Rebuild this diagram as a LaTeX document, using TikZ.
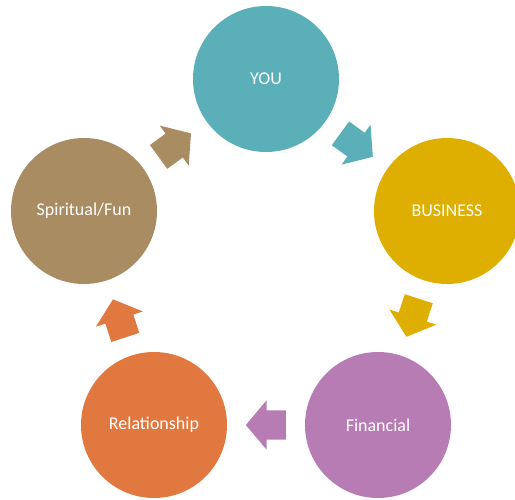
\documentclass[tikz,border=0pt]{standalone}
\usepackage{fontspec}
\setmainfont{Carlito}
\usetikzlibrary{shapes.arrows,calc,positioning}

\definecolor{youcol}{HTML}{5BAFB8}
\definecolor{bizcol}{HTML}{DEAF00}
\definecolor{fincol}{HTML}{B77CB4}
\definecolor{relcol}{HTML}{E07840}
\definecolor{spicol}{HTML}{A98C62}

\begin{document}
\begin{tikzpicture}[on grid,
		circ/.style={circle,minimum size=146pt,inner sep=0pt,text=white,font=\fontsize{18}{20}\selectfont},
		blockarr/.style={single arrow,minimum height=40pt,inner xsep=0pt,inner ysep=14.5pt,single arrow head extend=10pt,single arrow tip angle=100}]
			\useasboundingbox (0,0) rectangle (515pt,-499pt);
			\node[circ,fill=youcol] (you) at (266pt,-79pt) {YOU};
			\node[circ,fill=bizcol] [below right=132pt and 181pt of you] (biz) {BUSINESS};
			\node[circ,fill=spicol] [below left=132pt and 182pt of you] (spi) {Spiritual/Fun};
			\node[circ,fill=fincol] [below left=214pt and 69pt of biz] (fin) {Financial};
			\node[circ,fill=relcol] [below right=214pt and 70pt of spi] (rel) {Relationship};
			\node[blockarr,fill=youcol,rotate=-36] (a_1) at ($(you)!106pt!(biz)$) {};
			\node[blockarr,fill=bizcol,rotate=-108] (a_2) at ($(biz)!106pt!(fin)$) {};
			\node[blockarr,fill=fincol,rotate=180] (a_3) at ($(fin)!106pt!(rel)$) {};
			\node[blockarr,fill=relcol,rotate=108] (a_4) at ($(rel)!106pt!(spi)$) {};
			\node[blockarr,fill=spicol,rotate=36] (a_5) at ($(spi)!106pt!(you)$) {};
		\end{tikzpicture}
\end{document}
